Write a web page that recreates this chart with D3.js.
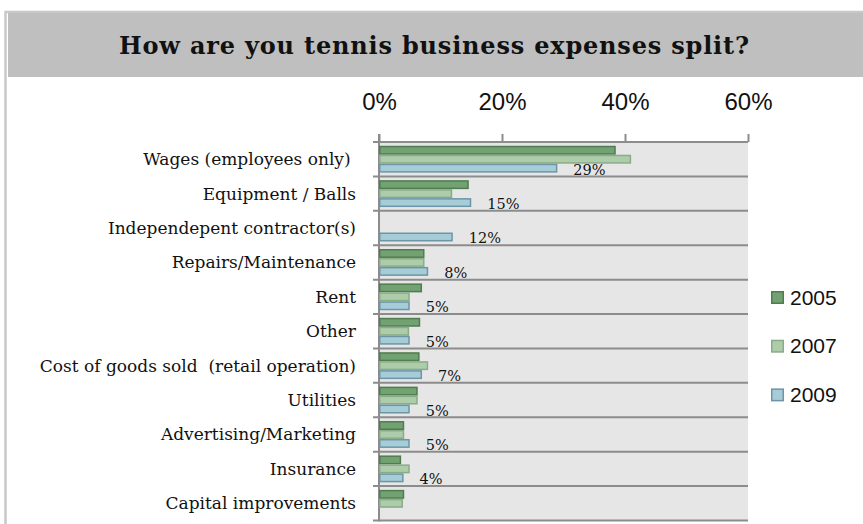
<!DOCTYPE html>
<html>
<head>
<meta charset="utf-8">
<script src="https://cdn.jsdelivr.net/npm/d3@7"></script>
<style>
  html, body { margin: 0; padding: 0; background: #fff; }
  svg { display: block; }
  text { white-space: pre; }
</style>
</head>
<body>
<div id="chart"></div>
<script>
// Share of tennis business expenses by category, survey years 2005 / 2007 / 2009 (percent)
const categories = [
  "Wages (employees only) ",
  "Equipment / Balls",
  "Independepent contractor(s)",
  "Repairs/Maintenance",
  "Rent",
  "Other",
  "Cost of goods sold  (retail operation)",
  "Utilities",
  "Advertising/Marketing",
  "Insurance",
  "Capital improvements"
];
const seriesNames = ["2005", "2007", "2009"];
const values2005 = [38.5, 14.6, null, 7.4, 7.0, 6.7, 6.6, 6.3, 4.1, 3.6, 4.1];
const values2007 = [41.0, 11.9, null, 7.4, 5.0, 4.9, 8.0, 6.3, 4.1, 5.0, 3.9];
const values2009 = [29, 15, 12, 8, 5, 5, 7, 5, 5, 4, null];
const axisTicks = [0, 20, 40, 60];

const seriesValues = [values2005, values2007, values2009];
const fills = ["#72a172", "#adcdaa", "#a6ccd7"];
const strokes = ["#4f7d4f", "#8aab88", "#6c96a6"];

const W = 863, H = 524;
const svg = d3.select("#chart").append("svg").attr("width", W).attr("height", H);

// outer frame and title banner
svg.append("path")
  .attr("d", `M5.5,${H} V12 H${W}`)
  .attr("fill", "none").attr("stroke", "#c8c8c8").attr("stroke-width", 2.5);
svg.append("rect")
  .attr("x", 8).attr("y", 13).attr("width", W - 8).attr("height", 64)
  .attr("fill", "#bfbfbf");
svg.append("text")
  .attr("x", 434).attr("y", 54)
  .attr("text-anchor", "middle")
  .attr("font-family", "'DejaVu Serif', serif")
  .attr("font-weight", "bold")
  .attr("font-size", 24)
  .attr("textLength", 630)
  .attr("lengthAdjust", "spacing")
  .attr("fill", "#111")
  .text("How are you tennis business expenses split?");

// scales
const plotTop = 142, plotBottom = 520.5, plotLeft = 379, plotRight = 748;
const x = d3.scaleLinear().domain([0, 60]).range([plotLeft, plotRight]);
const y = d3.scaleBand().domain(categories).range([plotTop, plotBottom]).paddingInner(0).paddingOuter(0);
const ySub = d3.scaleBand().domain(seriesNames).range([0, y.bandwidth()]).paddingInner(0).paddingOuter(0.42);

// plot background
svg.append("rect")
  .attr("x", plotLeft).attr("y", plotTop)
  .attr("width", plotRight - plotLeft).attr("height", plotBottom - plotTop)
  .attr("fill", "#e6e6e6");

// category separators (with small left ticks)
const bounds = categories.map(c => y(c)).concat([plotBottom]);
svg.append("g").selectAll("line").data(bounds).join("line")
  .attr("x1", plotLeft - 6).attr("x2", plotRight)
  .attr("y1", d => d).attr("y2", d => d)
  .attr("stroke", "#8c8c8c").attr("stroke-width", 2);

// top value axis
const xAxis = d3.axisTop(x)
  .tickValues(axisTicks)
  .tickSize(8)
  .tickPadding(24)
  .tickFormat(d => d + "%");
const gx = svg.append("g").attr("transform", `translate(0,${plotTop})`).call(xAxis);
gx.select(".domain").remove();
gx.selectAll(".tick line").attr("stroke", "#8c8c8c").attr("stroke-width", 2);
gx.selectAll(".tick text")
  .attr("font-family", "'Liberation Sans', Arial, sans-serif")
  .attr("font-size", 24)
  .attr("fill", "#111");

// vertical category axis line
svg.append("line")
  .attr("x1", plotLeft).attr("x2", plotLeft)
  .attr("y1", plotTop - 8).attr("y2", plotBottom + 1)
  .attr("stroke", "#8c8c8c").attr("stroke-width", 2);

// category labels
svg.append("g").selectAll("text").data(categories).join("text")
  .attr("x", 356)
  .attr("y", d => y(d) + y.bandwidth() / 2)
  .attr("dy", "0.35em")
  .attr("text-anchor", "end")
  .attr("font-family", "'DejaVu Serif', serif")
  .attr("font-size", 17)
  .attr("fill", "#111")
  .text(d => d);

// bars
seriesNames.forEach((s, si) => {
  const rows = categories.map((c, i) => ({ c, v: seriesValues[si][i] })).filter(d => d.v != null);
  svg.append("g").selectAll("rect").data(rows).join("rect")
    .attr("x", plotLeft + 0.75)
    .attr("y", d => y(d.c) + ySub(s) + 0.75)
    .attr("width", d => Math.max(0, x(d.v) - plotLeft - 1.5))
    .attr("height", ySub.bandwidth() - 1.5)
    .attr("fill", fills[si])
    .attr("stroke", strokes[si])
    .attr("stroke-width", 1.5);
});

// value labels for 2009
const labelRows = categories.map((c, i) => ({ c, v: values2009[i] })).filter(d => d.v != null);
svg.append("g").selectAll("text").data(labelRows).join("text")
  .attr("x", d => x(d.v) + 16)
  .attr("y", d => y(d.c) + ySub("2009") + ySub.bandwidth() + 2)
  .attr("font-family", "'DejaVu Serif', serif")
  .attr("font-size", 14.5)
  .attr("fill", "#111")
  .text(d => d3.format(".0f")(d.v) + "%");

// legend
const legend = svg.append("g").selectAll("g").data(seriesNames).join("g")
  .attr("transform", (d, i) => `translate(771,${297 + i * 48.7})`);
legend.append("rect")
  .attr("x", 0.75).attr("y", -5.25).attr("width", 11.5).attr("height", 11.5)
  .attr("fill", (d, i) => fills[i]).attr("stroke", (d, i) => strokes[i]).attr("stroke-width", 1.5);
legend.append("text")
  .attr("x", 19).attr("dy", "0.36em")
  .attr("font-family", "'Liberation Sans', Arial, sans-serif")
  .attr("font-size", 21)
  .attr("fill", "#111")
  .text(d => d);
</script>
</body>
</html>
